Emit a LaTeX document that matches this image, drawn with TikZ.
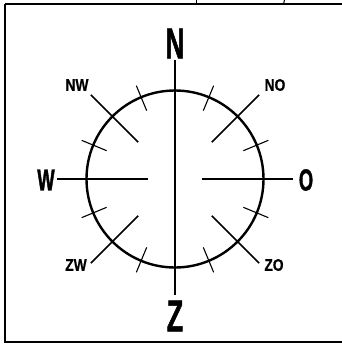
\documentclass[tikz,border=0pt]{standalone}
\usepackage{fontspec}
\usetikzlibrary{calc}
\newfontfamily\bigfont{Liberation Sans Bold}[FakeStretch=0.6,FakeBold=1.2]
\newfontfamily\smallfont{Liberation Sans Bold}[FakeStretch=0.82,FakeBold=0.6]
\begin{document}
\begin{tikzpicture}[x=1pt,y=-1pt,
  frame/.style={line width=2pt},
  ring/.style={line width=2.4pt},
  ray/.style={line width=1.5pt},
  tick/.style={line width=1.1pt},
  mainlbl/.style={inner sep=0pt},
  sublbl/.style={inner sep=0pt,font=\smallfont\fontsize{16.8}{18}\selectfont}]
\useasboundingbox (0,0) rectangle (342,353);
\draw[frame] (5,4) -- (350,4);
\draw[frame] (5,4) -- (5,342) -- (350,342);
\draw[line width=1pt] (196,0) -- (196,4);
\draw[line width=1pt] (284.5,0) -- (283.5,4);
\coordinate (c) at (175,179);
% ring
\draw[ring] (c) circle[radius=88.5];
% rays
\draw[ray] ($(c)+(0,-119)$) -- ($(c)+(0,116)$);
\draw[ray] ($(c)+(180:118)$) -- ($(c)+(180:27)$);
\draw[ray] ($(c)+(0:118)$) -- ($(c)+(0:27)$);
\foreach \a in {45,135,225,315}
  \draw[ray] ($(c)+(\a:52)$) -- ($(c)+(\a:119)$);
% ticks
\foreach \a in {22.5,67.5,112.5,157.5,202.5,247.5,292.5,337.5}
  \draw[tick] ($(c)+(\a:74)$) -- ($(c)+(\a:101)$);
% labels
\node[mainlbl,font=\bigfont\fontsize{43}{45}\selectfont] (n) at (175,43.5) {N};
\node[mainlbl,font=\bigfont\fontsize{44.5}{46}\selectfont] (z) at (175,316) {Z};
\node[mainlbl,font=\bigfont\fontsize{30.5}{32}\selectfont] (w) at (46,180) {W};
\node[mainlbl,font=\bigfont\fontsize{30.5}{32}\selectfont] (o) at (306,180) {O};
\node[sublbl] (nw) at (77,85) {NW};
\node[sublbl] (no) at (275,85) {NO};
\node[sublbl] (zw) at (76,265) {ZW};
\node[sublbl] (zo) at (274,265) {ZO};
\end{tikzpicture}
\end{document}
